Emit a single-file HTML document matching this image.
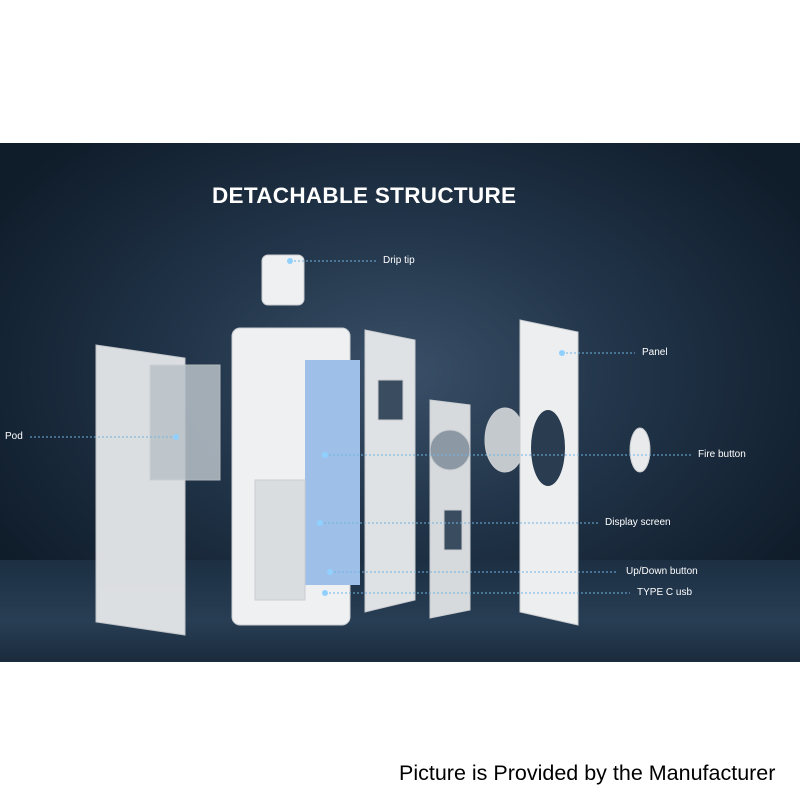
<!DOCTYPE html>
<html><head><style>
body{margin:0;width:800px;height:800px;background:#fff;overflow:hidden;font-family:"Liberation Sans",sans-serif;position:relative}
#bg{position:absolute;left:0;top:143px;width:800px;height:519px;background:radial-gradient(ellipse 480px 320px at 400px 230px,#3a5068 0%,#22354a 45%,#0f1c2a 100%)}
#floor{position:absolute;left:0;top:560px;width:800px;height:102px;background:linear-gradient(#1c2f43,#283e54 60%,#1a2b3d)}
.t{position:absolute;color:#fff;font-size:10px}
h1{position:absolute;left:212px;top:183px;margin:0;color:#fff;font-size:22.5px;font-weight:bold;letter-spacing:0.3px}
#foot{position:absolute;left:399px;top:761px;font-size:21.5px;color:#000}
</style></head><body>
<div id="bg"></div><div id="floor"></div>
<svg width="800" height="800" style="position:absolute;left:0;top:0">
<g fill="#e6e8ea" stroke="#c9ccd0" stroke-width="1">
<polygon points="96,345 185,358 185,635 96,622" opacity="0.95"/>
<rect x="150" y="365" width="70" height="115" fill="#b9c2c9" opacity="0.85"/>
<rect x="232" y="328" width="118" height="297" rx="8" fill="#eef0f2"/>
<rect x="305" y="360" width="55" height="225" fill="#9dbfe8" stroke="none"/>
<rect x="255" y="480" width="50" height="120" fill="#d9dde0"/>
<polygon points="365,330 415,340 415,600 365,612" fill="#dfe2e5"/>
<polygon points="430,400 470,405 470,610 430,618" fill="#d7dadd"/>
<rect x="378" y="380" width="25" height="40" fill="#3a4c60"/>
<rect x="444" y="510" width="18" height="40" fill="#3a4c60"/>
<circle cx="450" cy="450" r="20" fill="#8c98a4"/>
<ellipse cx="505" cy="440" rx="20" ry="32" fill="#c4c9ce"/>
<polygon points="520,320 578,332 578,625 520,612" fill="#eceef0"/>
<ellipse cx="548" cy="448" rx="17" ry="38" fill="#2a3c50" stroke="none"/>
<ellipse cx="640" cy="450" rx="10" ry="22" fill="#e8eaec"/>
<rect x="262" y="255" width="42" height="50" rx="6" fill="#eef0f2"/>
</g>
<g stroke="#6fb3e0" stroke-width="1" stroke-dasharray="2,2" fill="none">
<line x1="290" y1="261" x2="376" y2="261"/>
<line x1="562" y1="353" x2="635" y2="353"/>
<line x1="30" y1="437" x2="176" y2="437"/>
<line x1="325" y1="455" x2="692" y2="455"/>
<line x1="320" y1="523" x2="598" y2="523"/>
<line x1="330" y1="572" x2="618" y2="572"/>
<line x1="325" y1="593" x2="630" y2="593"/>
</g>
<g fill="#8fd0ff"><circle cx="290" cy="261" r="3"/><circle cx="562" cy="353" r="3"/><circle cx="176" cy="437" r="3"/><circle cx="325" cy="455" r="3"/><circle cx="320" cy="523" r="3"/><circle cx="330" cy="572" r="3"/><circle cx="325" cy="593" r="3"/></g>
</svg>
<h1>DETACHABLE STRUCTURE</h1>
<div class="t" style="left:383px;top:255px">Drip tip</div>
<div class="t" style="left:642px;top:347px">Panel</div>
<div class="t" style="left:5px;top:431px">Pod</div>
<div class="t" style="left:698px;top:449px">Fire button</div>
<div class="t" style="left:605px;top:517px">Display screen</div>
<div class="t" style="left:626px;top:566px">Up/Down button</div>
<div class="t" style="left:637px;top:587px">TYPE C usb</div>
<div id="foot">Picture is Provided by the Manufacturer</div>
</body></html>
